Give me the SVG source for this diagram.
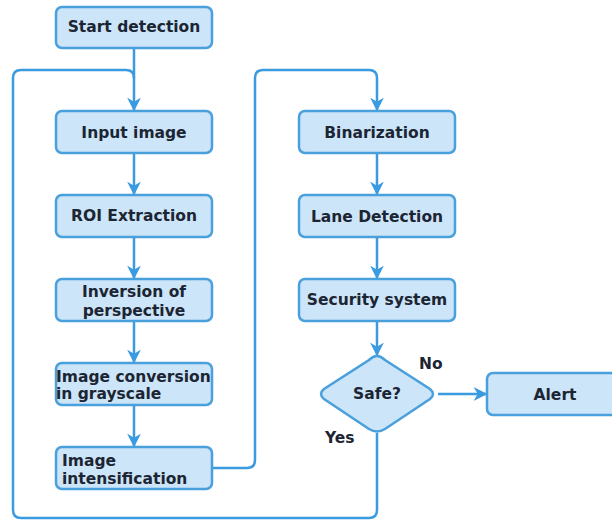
<svg xmlns="http://www.w3.org/2000/svg" width="612" height="520" viewBox="0 0 612 520">
<defs>
<marker id="ah" viewBox="0 0 10 10" refX="9" refY="5" markerWidth="5.5" markerHeight="5.5" orient="auto" markerUnits="strokeWidth">
<path d="M0,0 L10,5 L0,10 L3,5 Z" fill="#3b9be0"/>
</marker>
<style>
.box{fill:#cde5f8;stroke:#4aa0dc;stroke-width:2.5}
.t{font-family:"DejaVu Sans",sans-serif;font-weight:bold;font-size:15.5px;fill:#1c2533}
.c{text-anchor:middle}
.ln{fill:none;stroke:#3b9be0;stroke-width:2.5;marker-end:url(#ah)}
.lnn{fill:none;stroke:#3b9be0;stroke-width:2.5}
</style>
</defs>
<rect width="612" height="520" fill="#ffffff"/>
<g id="connectors">
<path class="ln" d="M134,48 V110"/>
<path class="lnn" d="M377,433 V510 Q377,518 369,518 H21 Q13,518 13,510 V78 Q13,70 21,70 H126 Q134,70 134,78"/>
<path class="ln" d="M134,153 V194"/>
<path class="ln" d="M134,237 V278"/>
<path class="ln" d="M134,321 V362"/>
<path class="ln" d="M134,405 V446"/>
<path class="ln" d="M212,468 H247 Q255,468 255,460 V78 Q255,70 263,70 H369 Q377,70 377,78 V110"/>
<path class="ln" d="M377,153 V194"/>
<path class="ln" d="M377,237 V278"/>
<path class="ln" d="M377,321 V355"/>
<path class="ln" d="M438,394 H486"/>
</g>
<g id="start"><rect class="box" x="56" y="7" width="156" height="41" rx="6"/><text class="t c" x="134" y="32">Start detection</text></g>
<g id="input"><rect class="box" x="56" y="111" width="156" height="42" rx="6"/><text class="t c" x="134" y="138">Input image</text></g>
<g id="roi"><rect class="box" x="56" y="195" width="156" height="42" rx="6"/><text class="t c" x="134" y="221">ROI Extraction</text></g>
<g id="inversion"><rect class="box" x="56" y="279" width="156" height="42" rx="6"/><text class="t c" x="134" y="297">Inversion of</text><text class="t c" x="134" y="316">perspective</text></g>
<g id="grayscale"><rect class="box" x="56" y="363" width="156" height="42" rx="6"/><text class="t" x="56" y="382">Image conversion</text><text class="t" x="56" y="399">in grayscale</text></g>
<g id="intensification"><rect class="box" x="56" y="447" width="156" height="42" rx="6"/><text class="t" x="62" y="466">Image</text><text class="t" x="62" y="484">intensification</text></g>
<g id="binarization"><rect class="box" x="299" y="111" width="156" height="42" rx="6"/><text class="t c" x="377" y="138">Binarization</text></g>
<g id="lane"><rect class="box" x="299" y="195" width="156" height="42" rx="6"/><text class="t c" x="377" y="222">Lane Detection</text></g>
<g id="security"><rect class="box" x="299" y="279" width="156" height="42" rx="6"/><text class="t c" x="377" y="305">Security system</text></g>
<g id="safe"><path class="box" d="M377,356 Q381,356 385,360 L430,389 Q436,394 430,399 L385,429 Q377,434 369,429 L324,399 Q318,394 324,389 L369,360 Q373,356 377,356 Z"/><text class="t c" x="377" y="399">Safe?</text></g>
<g id="alert"><rect class="box" x="487" y="373" width="135" height="42" rx="6"/><text class="t c" x="555" y="400">Alert</text></g>
<text class="t" x="419" y="369">No</text>
<text class="t" x="325" y="443">Yes</text>
</svg>
